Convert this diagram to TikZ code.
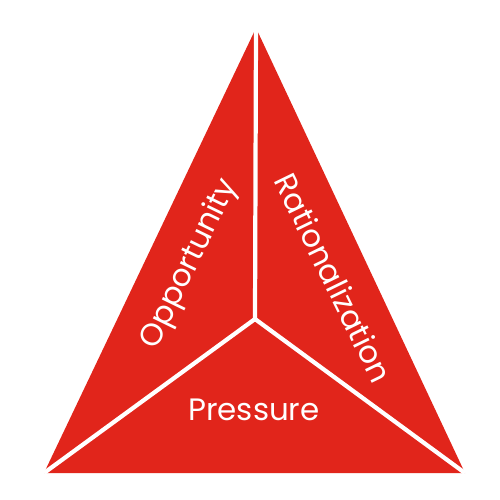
\documentclass[tikz,border=0pt]{standalone}
\usepackage{fontspec}
\setmainfont{Poppins}
\usetikzlibrary{positioning}
\definecolor{fraudred}{HTML}{E1251B}
\tikzset{
  side/.style={text=white, font=\fontsize{17.6}{20}\selectfont},
  divider/.style={draw=white, line width=2.4pt}
}
\begin{document}
\begin{tikzpicture}[x=0.2mm, y=-0.2mm]
  \useasboundingbox (0,0) rectangle (500,500);
  \coordinate (apex) at (256,28);
  \coordinate (left) at (44,473);
  \coordinate (right) at (465,473);
  \coordinate (mid) at (255,319);
  % triangle
  \fill[fraudred] (apex) -- (left) -- (right) -- cycle;
  \draw[divider] (mid) -- (apex);
  \draw[divider] (mid) -- (left);
  \draw[divider] (mid) -- (right);
  % labels
  \node (opp) [side, rotate=64] at (190,264) {Opportunity};
  \node (rat) [side, rotate=-64] at (334,278) {Rationalization};
  \node (pres) [side] at (254,410) {Pressure};
\end{tikzpicture}
\end{document}
